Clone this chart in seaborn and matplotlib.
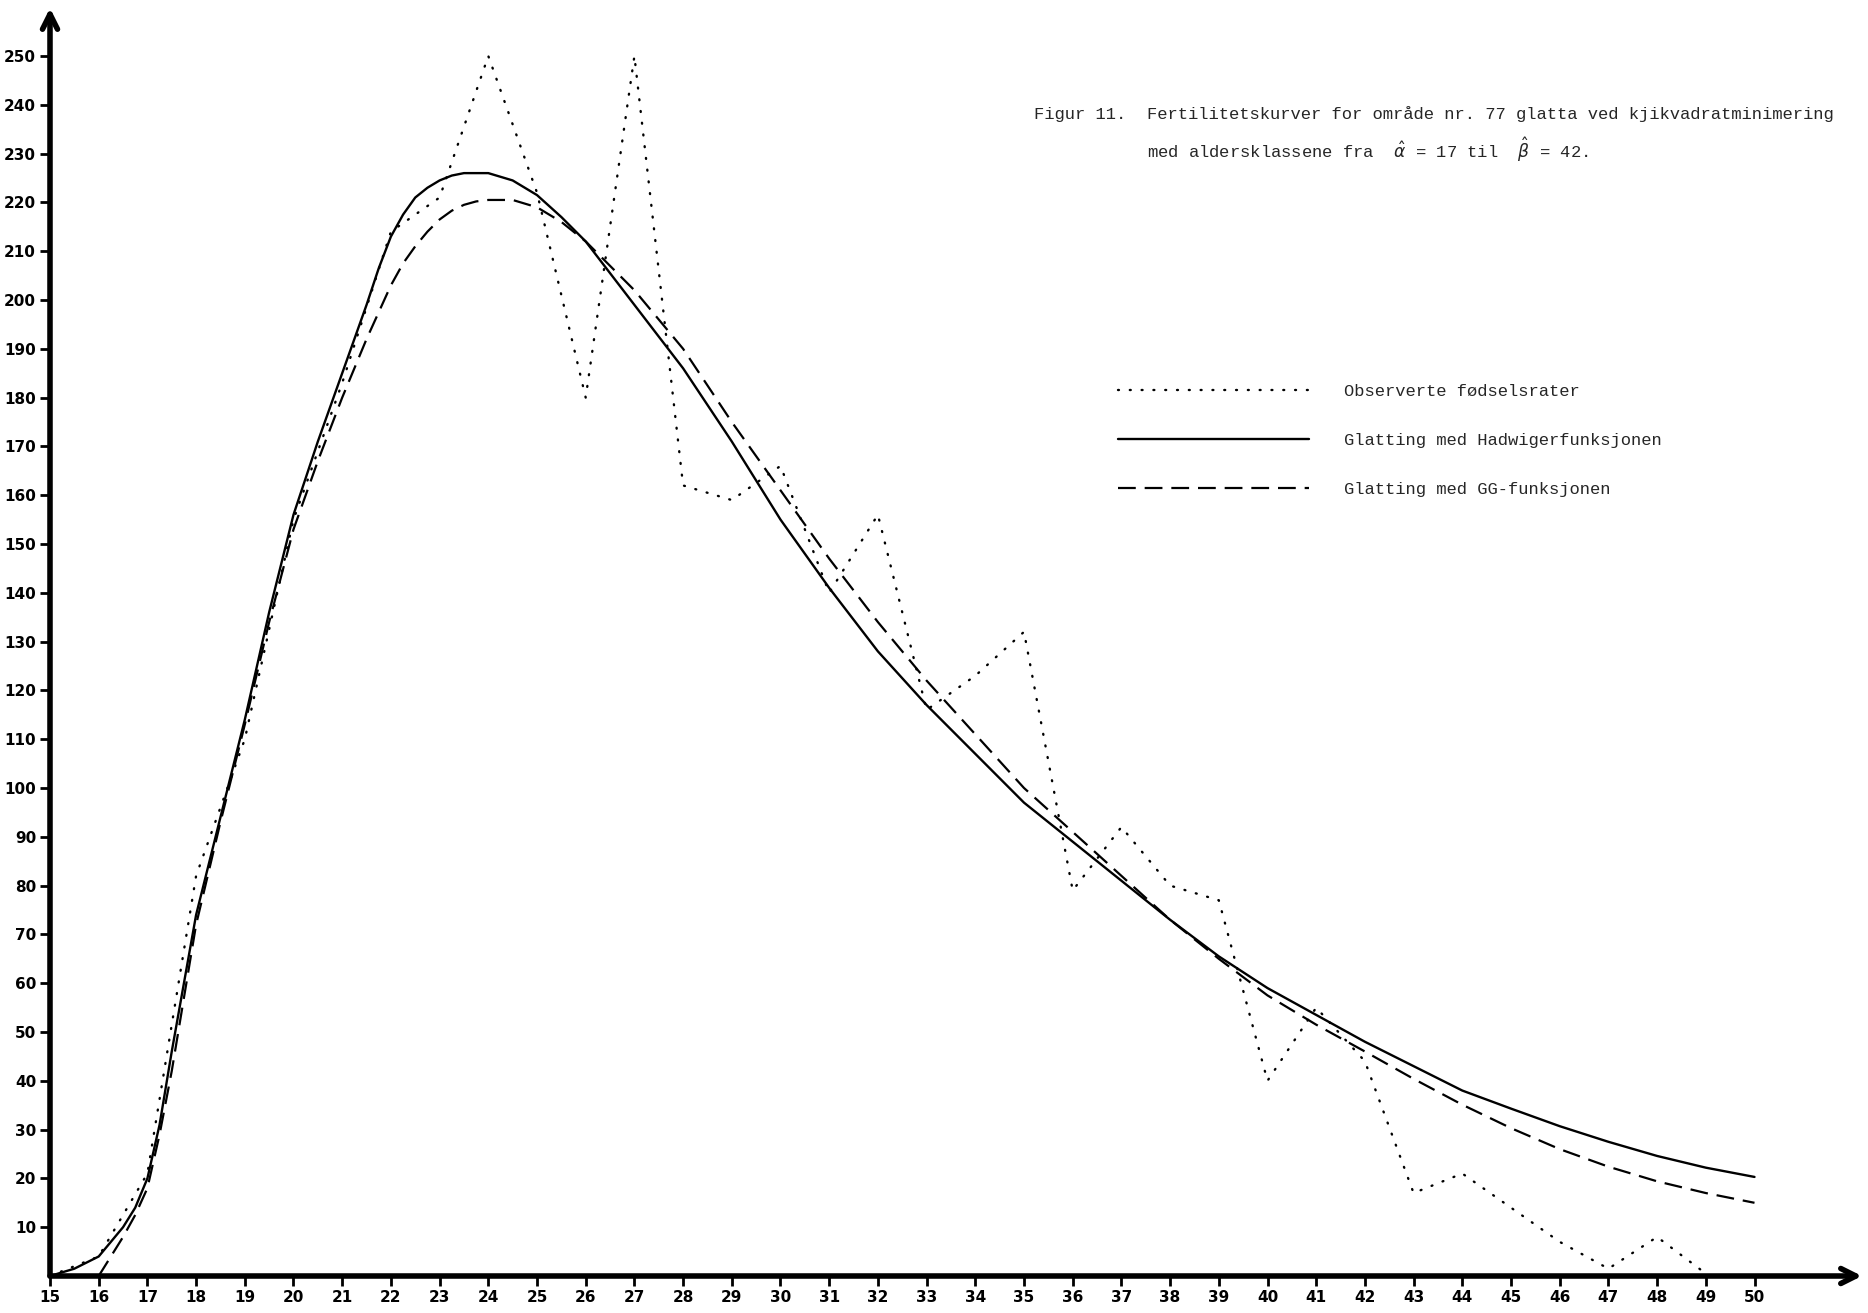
import matplotlib
matplotlib.use("Agg")
import matplotlib.pyplot as plt
import seaborn as sns

# Observerte fødselsrater (per 1000), ettårige aldersklasser
obs_age = list(range(15, 50))
obs_rate = [0, 4, 21, 82, 110, 155, 183, 214, 221, 250,
            222, 180, 250, 162, 159, 166, 140, 156, 116, 123,
            132, 79, 92, 80, 77, 40, 55, 44, 17, 21,
            14, 7, 1.5, 8, 0.5]

# Glatting med Hadwigerfunksjonen
had_age = [15, 15.5, 16, 16.5, 16.75, 17, 17.25, 17.5, 18, 18.5, 19, 19.5,
           20, 20.5, 21, 21.5, 21.75, 22, 22.25, 22.5, 22.75, 23, 23.25,
           23.5, 24, 24.5, 25, 25.5, 26,
           27, 28, 29, 30, 31, 32, 33, 34, 35, 36, 37, 38, 39, 40,
           41, 42, 43, 44, 45, 46, 47, 48, 49, 50]
had_rate = [0, 1.5, 4, 10, 14, 20, 31, 46, 74, 94, 114, 136,
            156, 171, 185, 199, 206.5, 213, 217.5, 221, 223, 224.5, 225.5,
            226, 226, 224.5, 221.5, 217, 212,
            199, 186, 171, 155, 141, 128, 117, 107, 97, 89, 81, 73, 65.5, 59,
            53.5, 48, 43, 38, 34.3, 30.7, 27.5, 24.6, 22.2, 20.3]

# Glatting med GG-funksjonen
gg_age = [16, 16.5, 16.75, 17, 17.25, 17.5, 18, 18.5, 19, 19.5, 20, 20.5,
          21, 21.5, 21.75, 22, 22.25, 22.5, 22.75, 23, 23.25, 23.5, 23.75,
          24, 24.5, 25, 25.5, 26,
          27, 28, 29, 30, 31, 32, 33, 34, 35, 36, 37, 38, 39, 40,
          41, 42, 43, 44, 45, 46, 47, 48, 49, 50]
gg_rate = [0, 8, 12.5, 18, 29, 42, 72, 93, 113, 134, 153, 167,
           180, 192, 197.5, 203, 207.5, 211, 214, 216.5, 218.3, 219.5, 220.2,
           220.5, 220.5, 219, 216, 212,
           202, 190, 175, 161, 147, 134, 122, 111, 100, 91, 82, 73, 65, 57.5,
           51.5, 46, 40.4, 35.1, 30.3, 26, 22.4, 19.4, 17, 15]

x_ticks = list(range(15, 51))
y_ticks = list(range(10, 251, 10))

W, H = 1868, 1313
sns.set_theme(style="ticks")
plt.rcParams['font.family'] = ['DejaVu Sans']

fig = plt.figure(figsize=(W / 100, H / 100), dpi=100)
fig.patch.set_facecolor('white')
ax = fig.add_axes([50 / W, 37 / H, 1812 / W, 1268 / H])
ax.set_facecolor('white')

sns.lineplot(x=obs_age, y=obs_rate, ax=ax, color='black', linewidth=1.7,
             linestyle=(0, (0.4, 4.6)), dash_capstyle='round',
             label='Observerte fødselsrater')
sns.lineplot(x=had_age, y=had_rate, ax=ax, color='black', linewidth=1.7,
             label='Glatting med Hadwigerfunksjonen')
sns.lineplot(x=gg_age, y=gg_rate, ax=ax, color='black', linewidth=1.6,
             linestyle=(0, (8, 4)),
             label='Glatting med GG-funksjonen')

ax.set_xlim(15, 15 + 1812 / 48.7)
ax.set_ylim(0, 1268 / 4.88)
ax.set_xticks(x_ticks)
ax.set_yticks(y_ticks)
ax.set_xticklabels([str(t) for t in x_ticks], fontsize=11, fontweight='bold')
ax.set_yticklabels([str(t) for t in y_ticks], fontsize=11, fontweight='bold')
ax.tick_params(axis='both', direction='out', length=7, width=2,
               color='black', labelcolor='black', pad=3)
ax.set_xlabel('')
ax.set_ylabel('')

for s in ax.spines.values():
    s.set_visible(False)

# axes with arrow heads
arrow = dict(arrowstyle='->,head_length=0.9,head_width=0.45', lw=4,
             color='black', shrinkA=0, shrinkB=0)
ax.annotate('', xy=(0, 1), xytext=(0, 0), xycoords='axes fraction',
            arrowprops=arrow, annotation_clip=False)
ax.annotate('', xy=(1, 0), xytext=(0, 0), xycoords='axes fraction',
            arrowprops=arrow, annotation_clip=False)

mono = ['Liberation Mono', 'DejaVu Sans Mono']
fig.text(1034 / W, 1 - 114 / H, 'Figur 11.', family=mono, fontsize=12.3,
         va='center', ha='left')
fig.text(1147 / W, 1 - 114 / H,
         'Fertilitetskurver for område nr. 77 glatta ved kjikvadratminimering',
         family=mono, fontsize=12.3, va='center', ha='left')
fig.text(1147 / W, 1 - 150 / H,
         r'med aldersklassene fra  $\hat{\alpha}$ = 17 til  $\hat{\beta}$ = 42.',
         family=mono, fontsize=12.3, va='center', ha='left')

leg = ax.legend(loc='upper left', bbox_to_anchor=(1118 / W, 1 - 384 / H),
                bbox_transform=fig.transFigure, frameon=False,
                prop={'family': mono, 'size': 12.3}, handlelength=11.2,
                handletextpad=2.0, labelspacing=2.0, borderpad=0,
                borderaxespad=0)

fig.savefig('out.png', dpi=100, facecolor='white')
